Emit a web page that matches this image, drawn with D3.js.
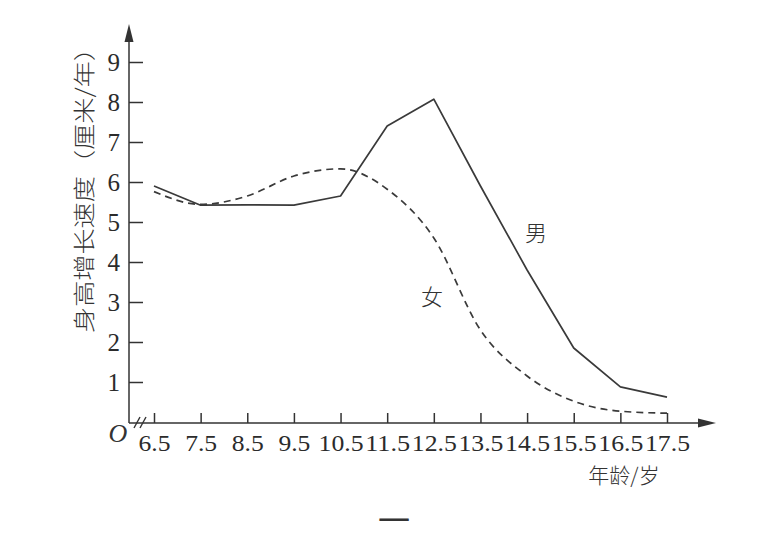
<!DOCTYPE html>
<html lang="zh">
  <head>
    <meta charset="UTF-8" />
    <title>身高增长速度</title>
    <script src="https://d3js.org/d3.v7.min.js"></script>
    <style>
      body {
        margin: 0;
        padding: 0;
        background: #fff;
      }
      .tick text {
        font-family: "Liberation Serif", "DejaVu Serif", serif;
        fill: #2b2b2b;
      }
      .cjk {
        font-family: "Noto Sans CJK SC", sans-serif;
        fill: #333;
      }
    </style>
  </head>
  <body>
    <div id="chart"></div>
    <script>
      const ages = [6.5, 7.5, 8.5, 9.5, 10.5, 11.5, 12.5, 13.5, 14.5, 15.5, 16.5, 17.5];
      const boys = [5.9, 5.42, 5.43, 5.42, 5.65, 7.4, 8.07, 5.9, 3.8, 1.85, 0.88, 0.62];
      const girls = [5.76, 5.44, 5.65, 6.15, 6.33, 5.82, 4.6, 2.3, 1.15, 0.52, 0.27, 0.22];
      const yTicks = [1, 2, 3, 4, 5, 6, 7, 8, 9];

      const width = 763;
      const height = 540;
      const ink = "#333";

      const svg = d3
        .select("#chart")
        .append("svg")
        .attr("width", width)
        .attr("height", height);

      const x = d3.scaleLinear().domain([6.5, 17.5]).range([154, 667]);
      const y = d3.scaleLinear().domain([0, 9]).range([422, 62]);

      const axisX = 129;
      const axisY = 423;

      // axes lines with arrows
      svg
        .append("line")
        .attr("x1", axisX)
        .attr("x2", axisX)
        .attr("y1", axisY)
        .attr("y2", 36)
        .attr("stroke", ink)
        .attr("stroke-width", 1.5);
      svg
        .append("path")
        .attr("d", `M${axisX},24 L${axisX - 4.5},42 L${axisX + 4.5},42 Z`)
        .attr("fill", ink);

      svg
        .append("line")
        .attr("x1", axisX)
        .attr("x2", 702)
        .attr("y1", axisY)
        .attr("y2", axisY)
        .attr("stroke", ink)
        .attr("stroke-width", 1.5);
      svg
        .append("path")
        .attr("d", `M716,${axisY} L698,${axisY - 4.5} L698,${axisY + 4.5} Z`)
        .attr("fill", ink);

      // axis break marks
      [137, 143].forEach((bx) => {
        svg
          .append("line")
          .attr("x1", bx - 3)
          .attr("x2", bx + 3)
          .attr("y1", axisY + 5)
          .attr("y2", axisY - 6)
          .attr("stroke", ink)
          .attr("stroke-width", 1.4);
      });

      // y axis ticks
      const yAxis = svg
        .append("g")
        .attr("transform", `translate(${axisX},0)`)
        .call(d3.axisLeft(y).tickValues(yTicks).tickSize(-14).tickPadding(9));
      yAxis.select(".domain").remove();
      yAxis.selectAll(".tick line").attr("stroke", ink).attr("stroke-width", 1.5);
      yAxis.selectAll(".tick text").style("font-size", "25px");

      // x axis ticks
      const xAxis = svg
        .append("g")
        .attr("transform", `translate(0,${axisY})`)
        .call(
          d3
            .axisBottom(x)
            .tickValues(ages)
            .tickSize(-10)
            .tickPadding(11)
            .tickFormat((d) => d.toFixed(1))
        );
      xAxis.select(".domain").remove();
      xAxis.selectAll(".tick line").attr("stroke", ink).attr("stroke-width", 1.5);
      xAxis
        .selectAll(".tick text")
        .style("font-size", "24px")
        .attr("textLength", 45)
        .attr("lengthAdjust", "spacingAndGlyphs");
      xAxis
        .selectAll(".tick text")
        .filter((d) => d < 10)
        .attr("textLength", 32);

      // origin
      svg
        .append("text")
        .attr("x", 118)
        .attr("y", 442)
        .attr("text-anchor", "middle")
        .style("font-family", "Liberation Serif, serif")
        .style("font-style", "italic")
        .style("font-size", "26px")
        .style("fill", ink)
        .text("O");

      // lines
      const line = d3
        .line()
        .x((d) => x(d[0]))
        .y((d) => y(d[1]));

      svg
        .append("path")
        .datum(d3.zip(ages, boys))
        .attr("d", line.curve(d3.curveLinear))
        .attr("fill", "none")
        .attr("stroke", "#3a3a3a")
        .attr("stroke-width", 1.7)
        .attr("stroke-linejoin", "round");

      svg
        .append("path")
        .datum(d3.zip(ages, girls))
        .attr("d", line.curve(d3.curveMonotoneX))
        .attr("fill", "none")
        .attr("stroke", "#3a3a3a")
        .attr("stroke-width", 1.7)
        .attr("stroke-dasharray", "7,5");

      // labels
      svg
        .append("text")
        .attr("class", "cjk")
        .attr("transform", "translate(92,184) rotate(-90)")
        .attr("text-anchor", "middle")
        .attr("textLength", 298)
        .attr("lengthAdjust", "spacingAndGlyphs")
        .style("font-size", "22px")
        .style("font-weight", 300)
        .text("身高增长速度（厘米/年）");

      svg
        .append("text")
        .attr("class", "cjk")
        .attr("x", 624)
        .attr("y", 483)
        .attr("text-anchor", "middle")
        .style("font-size", "21px")
        .style("font-weight", 300)
        .text("年龄/岁");

      svg
        .append("text")
        .attr("class", "cjk")
        .attr("x", 536)
        .attr("y", 241)
        .attr("text-anchor", "middle")
        .style("font-size", "22px")
        .style("font-weight", 300)
        .text("男");

      svg
        .append("text")
        .attr("class", "cjk")
        .attr("x", 432)
        .attr("y", 305)
        .attr("text-anchor", "middle")
        .style("font-size", "22px")
        .style("font-weight", 300)
        .text("女");

      svg
        .append("text")
        .attr("class", "cjk")
        .attr("x", 394)
        .attr("y", 532)
        .attr("text-anchor", "middle")
        .style("font-size", "32px")
        .text("一");
    </script>
  </body>
</html>
